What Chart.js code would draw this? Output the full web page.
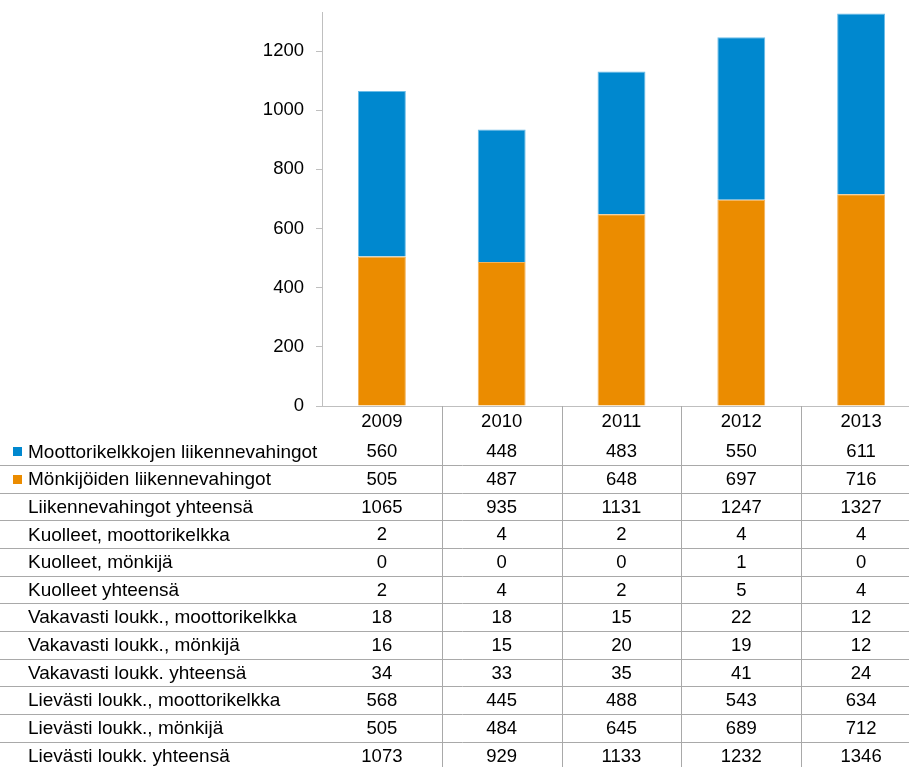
<!DOCTYPE html>
<html>
<head>
<meta charset="utf-8">
<script src="https://cdn.jsdelivr.net/npm/chart.js@4"></script>
<style>
  html, body { margin: 0; padding: 0; background: #fff; overflow: hidden; }
  #wrap { width: 909px; height: 767px; overflow: hidden; }
</style>
</head>
<body>
<div id="wrap"><canvas id="chart" width="925" height="767"></canvas></div>
<script>
const years = ['2009', '2010', '2011', '2012', '2013'];
const moottorikelkkaVahingot = [560, 448, 483, 550, 611];
const monkijaVahingot = [505, 487, 648, 697, 716];
const vahingotYhteensa = [1065, 935, 1131, 1247, 1327];
const kuolleetMoottorikelkka = [2, 4, 2, 4, 4];
const kuolleetMonkija = [0, 0, 0, 1, 0];
const kuolleetYhteensa = [2, 4, 2, 5, 4];
const vakavastiMoottorikelkka = [18, 18, 15, 22, 12];
const vakavastiMonkija = [16, 15, 20, 19, 12];
const vakavastiYhteensa = [34, 33, 35, 41, 24];
const lievastiMoottorikelkka = [568, 445, 488, 543, 634];
const lievastiMonkija = [505, 484, 645, 689, 712];
const lievastiYhteensa = [1073, 929, 1133, 1232, 1346];
const yTicks = [0, 200, 400, 600, 800, 1000, 1200];

const BLUE = '#0088cf';
const ORANGE = '#eb8c00';
const FONT = '"Liberation Sans", Arial, sans-serif';

const tableRows = [
  { label: 'Moottorikelkkojen liikennevahingot', values: moottorikelkkaVahingot, key: BLUE },
  { label: 'Mönkijöiden liikennevahingot', values: monkijaVahingot, key: ORANGE },
  { label: 'Liikennevahingot yhteensä', values: vahingotYhteensa },
  { label: 'Kuolleet, moottorikelkka', values: kuolleetMoottorikelkka },
  { label: 'Kuolleet, mönkijä', values: kuolleetMonkija },
  { label: 'Kuolleet yhteensä', values: kuolleetYhteensa },
  { label: 'Vakavasti loukk., moottorikelkka', values: vakavastiMoottorikelkka },
  { label: 'Vakavasti loukk., mönkijä', values: vakavastiMonkija },
  { label: 'Vakavasti loukk. yhteensä', values: vakavastiYhteensa },
  { label: 'Lievästi loukk., moottorikelkka', values: lievastiMoottorikelkka },
  { label: 'Lievästi loukk., mönkijä', values: lievastiMonkija },
  { label: 'Lievästi loukk. yhteensä', values: lievastiYhteensa }
];

// data table under the plot, columns follow the x scale
const dataTable = {
  id: 'dataTable',
  afterDraw(chart) {
    const ctx = chart.ctx;
    const x = chart.scales.x;
    const area = chart.chartArea;
    const rowH = 27.65;
    const firstTop = 437.5;
    const H = chart.height;

    ctx.save();
    ctx.strokeStyle = '#a9a9a9';
    ctx.lineWidth = 1;
    // vertical dividers
    for (let i = 0; i < years.length; i++) {
      const xr = i < years.length - 1
        ? (x.getPixelForValue(i) + x.getPixelForValue(i + 1)) / 2
        : area.right;
      ctx.beginPath();
      ctx.moveTo(Math.round(xr) + 0.5, area.bottom);
      ctx.lineTo(Math.round(xr) + 0.5, H);
      ctx.stroke();
    }
    // horizontal lines
    for (let r = 1; r < tableRows.length + 1; r++) {
      const y = Math.round(firstTop + r * rowH) + 0.5;
      ctx.beginPath();
      ctx.moveTo(0, y);
      ctx.lineTo(chart.width, y);
      ctx.stroke();
    }

    ctx.fillStyle = '#000';
    ctx.textBaseline = 'middle';
    tableRows.forEach((row, r) => {
      const cy = firstTop + r * rowH + rowH / 2 + 1;
      if (row.key) {
        ctx.fillStyle = row.key;
        ctx.fillRect(13, Math.round(cy) - 5, 9, 9);
        ctx.fillStyle = '#000';
      }
      ctx.font = '19px ' + FONT;
      ctx.textAlign = 'left';
      ctx.fillText(row.label, 28, cy);
      ctx.font = '18.5px ' + FONT;
      ctx.textAlign = 'center';
      row.values.forEach((v, i) => {
        ctx.fillText(String(v), x.getPixelForValue(i), cy);
      });
    });
    ctx.restore();
  }
};

new Chart(document.getElementById('chart').getContext('2d'), {
  type: 'bar',
  data: {
    labels: years,
    datasets: [
      {
        label: 'Mönkijöiden liikennevahingot',
        data: monkijaVahingot,
        backgroundColor: ORANGE,
        borderColor: '#f3b35c',
        borderWidth: 1,
        borderSkipped: 'bottom'
      },
      {
        label: 'Moottorikelkkojen liikennevahingot',
        data: moottorikelkkaVahingot,
        backgroundColor: BLUE,
        borderColor: '#6cbde8',
        borderWidth: 1,
        borderSkipped: 'bottom'
      }
    ]
  },
  options: {
    responsive: false,
    animation: false,
    layout: { padding: { top: 12, right: 4, left: 0, bottom: 0 } },
    datasets: {
      bar: { categoryPercentage: 1, barPercentage: 0.4 }
    },
    plugins: {
      legend: { display: false },
      tooltip: { enabled: false }
    },
    scales: {
      x: {
        stacked: true,
        grid: { display: false, drawTicks: false },
        border: { display: true, color: '#bfbfbf', width: 1 },
        ticks: {
          color: '#000',
          font: { family: FONT, size: 18.5 },
          padding: 5,
          maxRotation: 0
        },
        afterFit(scale) {
          scale.height = 361;
          scale.paddingLeft = 0;
          scale.paddingRight = 0;
        }
      },
      y: {
        stacked: true,
        min: 0,
        max: 1332,
        grid: { drawOnChartArea: false, tickColor: '#bfbfbf', tickLength: 6 },
        border: { display: true, color: '#bfbfbf', width: 1 },
        ticks: {
          stepSize: 200,
          color: '#000',
          font: { family: FONT, size: 18.5 },
          padding: 12,
          callback: v => String(v)
        },
        afterBuildTicks(scale) {
          scale.ticks = yTicks.map(v => ({ value: v }));
        },
        afterFit(scale) {
          scale.width = 322;
          scale.paddingTop = 0;
          scale.paddingBottom = 0;
        }
      }
    }
  },
  plugins: [dataTable]
});
</script>
</body>
</html>
